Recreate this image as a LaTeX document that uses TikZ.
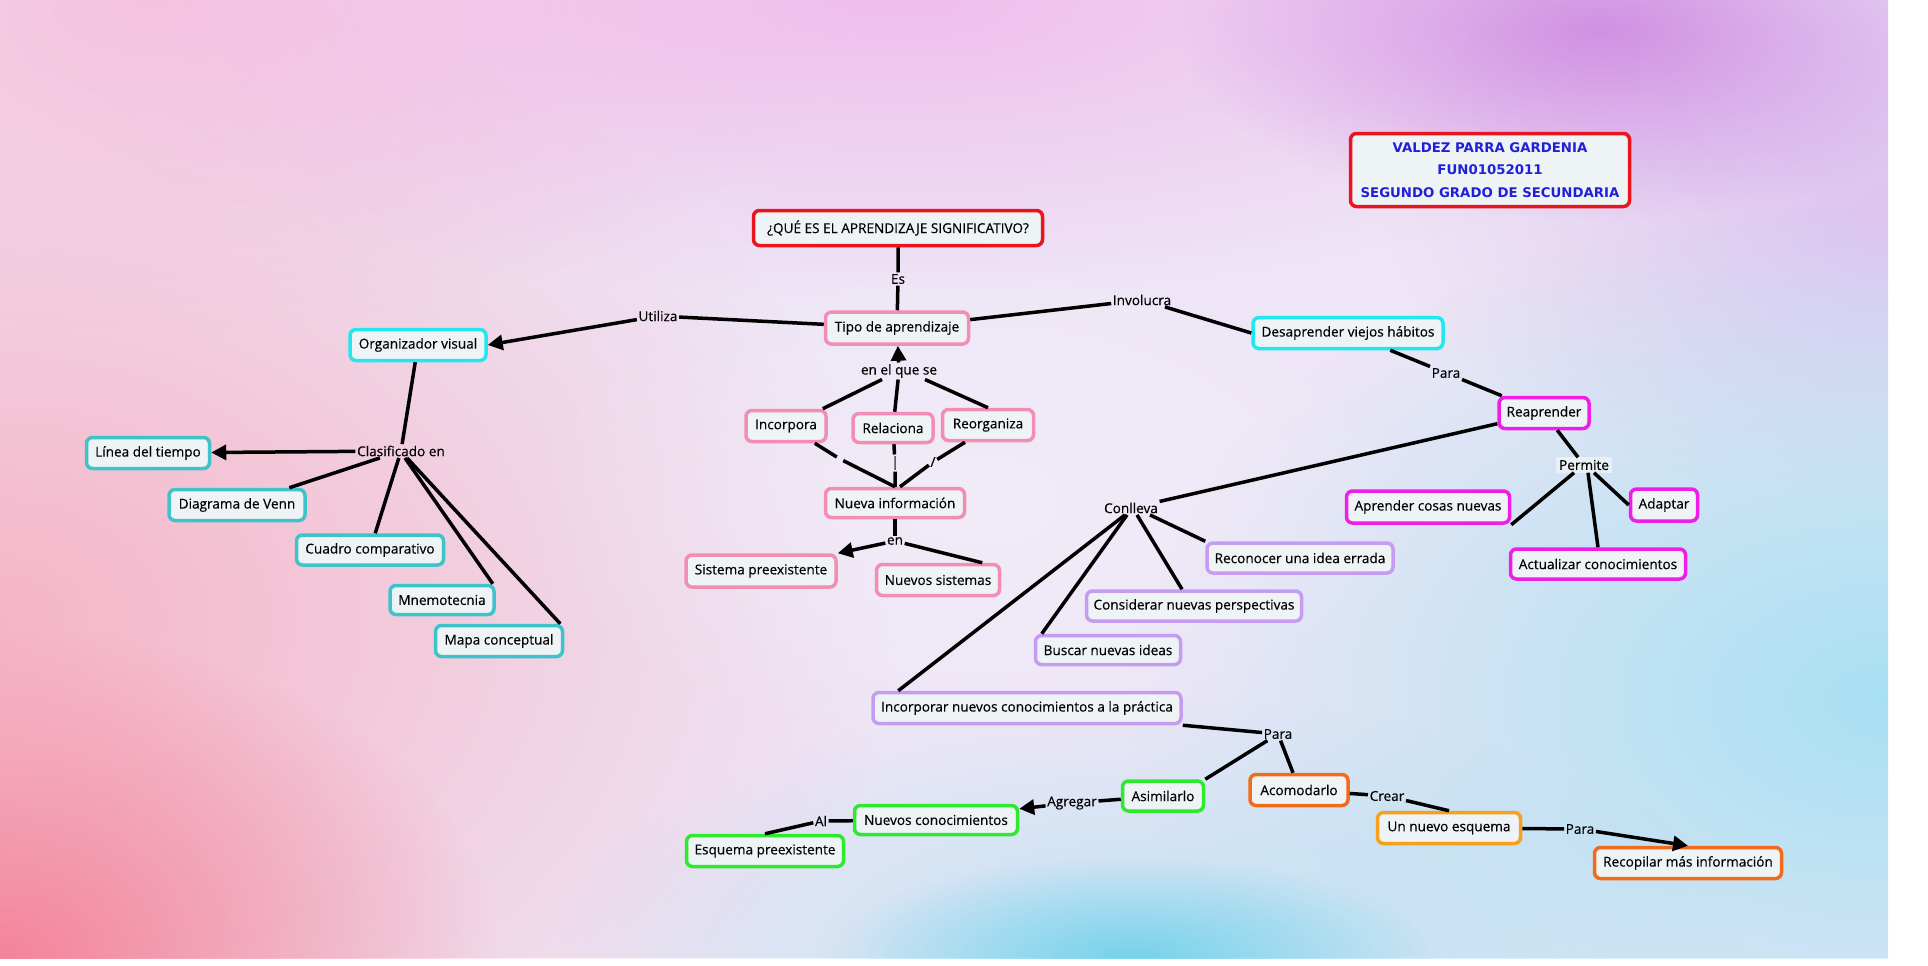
\documentclass[tikz,border=0pt]{standalone}
\usepackage{fontspec}
\setmainfont{Open Sans}[FakeBold=0.35]
\newfontfamily\infofam{DejaVu Sans}
\usetikzlibrary{arrows.meta,fadings,shadings}
\newcommand\cmfont{\fontsize{13.6}{16}\selectfont}
\newcommand\infofnt{\fontsize{13.3}{22.5}\selectfont\infofam\bfseries}
\definecolor{nfill}{HTML}{EEF3F5}
\definecolor{redc}{HTML}{E8141E}
\definecolor{bluet}{HTML}{2020D8}
\definecolor{pinkc}{HTML}{F28DB5}
\definecolor{cyanb}{HTML}{22E6F0}
\definecolor{tealc}{HTML}{3EC3CB}
\definecolor{magc}{HTML}{EE1EE6}
\definecolor{lavc}{HTML}{C49CF2}
\definecolor{greenc}{HTML}{2EEA2E}
\definecolor{orangec}{HTML}{F06C1C}
\definecolor{orangel}{HTML}{F5A01E}
\definecolor{bgBase}{RGB}{238,230,246}
\definecolor{bgPL}{RGB}{247,176,194}
\definecolor{bgPR}{RGB}{244,118,142}
\definecolor{bgTL}{RGB}{247,192,218}
\definecolor{bgTM}{RGB}{240,180,236}
\definecolor{bgP}{RGB}{204,132,224}
\definecolor{bgLil}{RGB}{218,186,238}
\definecolor{bgCR}{RGB}{160,224,242}
\definecolor{bgCy}{RGB}{70,200,230}
\definecolor{bgW}{RGB}{244,240,250}
\tikzfading[name=fuzzy, inner color=transparent!0, outer color=transparent!100]
\tikzset{
  box/.style={draw=#1, fill=nfill, rounded corners=6pt, line width=3.5pt,
    inner xsep=4pt, inner ysep=2pt, font=\cmfont, text=black},
  lbl/.style={font=\cmfont, inner sep=1.5pt, text=black},
  conn/.style={line width=3.5pt, draw=black},
  arr/.style={conn, -{Triangle[length=15pt,width=15pt]}},
  blob/.style={fill=#1, path fading=fuzzy}
}
\begin{document}
\begin{tikzpicture}[x=1pt,y=-1pt]
\useasboundingbox (0,0) rectangle (1928,966);
\fill[white] (0,0) rectangle (1928,966);
% background
\begin{scope}
\clip (0,0) rectangle (1888,958);
\fill[bgBase] (0,0) rectangle (1888,958);
\fill[blob=bgPL, opacity=.9] (0,620) ellipse (900 and 660);
\fill[blob=bgTL, opacity=.85] (150,0) ellipse (700 and 330);
\fill[blob=bgTM, opacity=.8] (900,0) ellipse (900 and 300);
\fill[blob=bgLil, opacity=.8] (1888,200) ellipse (500 and 300);
\fill[blob=bgCR, opacity=.9] (1888,700) ellipse (760 and 500);
\fill[blob=bgCR, opacity=.6] (1150,958) ellipse (600 and 260);
\fill[blob=bgPR, opacity=.85] (0,958) ellipse (500 and 330);
\fill[blob=bgP, opacity=.85] (1600,30) ellipse (420 and 190);
\fill[blob=bgCy, opacity=.6] (1130,958) ellipse (300 and 100);
\fill[blob=bgW, opacity=.6] (980,500) ellipse (460 and 260);
\end{scope}

% main nodes
\node[box=redc, minimum width=289pt, minimum height=35pt] (title) at (898,228) {¿QUÉ ES EL APRENDIZAJE SIGNIFICATIVO?};
\node[box=redc, minimum width=279pt, minimum height=73pt, align=center, font=\infofnt, text=bluet] (info) at (1490,170) {VALDEZ PARRA GARDENIA\\FUN01052011\\SEGUNDO GRADO DE SECUNDARIA};
\node[box=pinkc, minimum width=143pt, minimum height=32pt] (tipo) at (897,328) {Tipo de aprendizaje};
\node[box=cyanb, minimum width=136pt, minimum height=31pt] (org) at (418,345) {Organizador visual};
\node[box=cyanb, minimum width=190pt, minimum height=31pt] (desap) at (1348,333) {Desaprender viejos hábitos};
\node[box=magc, minimum width=90pt, minimum height=31pt] (reap) at (1544,413) {Reaprender};
\node[box=magc, minimum width=163pt, minimum height=32pt] (aprender) at (1428,507) {Aprender cosas nuevas};
\node[box=magc, minimum width=67pt, minimum height=32pt] (adaptar) at (1664,505) {Adaptar};
\node[box=magc, minimum width=175pt, minimum height=30pt] (actual) at (1598,564) {Actualizar conocimientos};
\node[box=lavc, minimum width=186pt, minimum height=30pt] (reconocer) at (1300,558) {Reconocer una idea errada};
\node[box=lavc, minimum width=215pt, minimum height=30pt] (considerar) at (1194,606) {Considerar nuevas perspectivas};
\node[box=lavc, minimum width=145pt, minimum height=29pt] (buscar) at (1108,650) {Buscar nuevas ideas};
\node[box=lavc, minimum width=308pt, minimum height=31pt] (incorp) at (1027,708) {Incorporar nuevos conocimientos a la práctica};
\node[box=greenc, minimum width=81pt, minimum height=30pt] (asim) at (1163,796) {Asimilarlo};
\node[box=orangec, minimum width=98pt, minimum height=31pt] (acom) at (1299,790) {Acomodarlo};
\node[box=orangel, minimum width=143pt, minimum height=31pt] (unuevo) at (1449,828) {Un nuevo esquema};
\node[box=orangec, minimum width=187pt, minimum height=31pt] (recop) at (1688,863) {Recopilar más información};
\node[box=greenc, minimum width=163pt, minimum height=29pt] (nc) at (936,820) {Nuevos conocimientos};
\node[box=greenc, minimum width=157pt, minimum height=31pt] (esq) at (765,851) {Esquema preexistente};
\node[box=pinkc, minimum width=80pt, minimum height=31pt] (incorpora) at (786,426) {Incorpora};
\node[box=pinkc, minimum width=80pt, minimum height=29pt] (relac) at (893,428) {Relaciona};
\node[box=pinkc, minimum width=91pt, minimum height=31pt] (reorg) at (988,425) {Reorganiza};
\node[box=pinkc, minimum width=139pt, minimum height=29pt] (nueva) at (895,503) {Nueva información};
\node[box=pinkc, minimum width=150pt, minimum height=32pt] (sistema) at (761,571) {Sistema preexistente};
\node[box=pinkc, minimum width=123pt, minimum height=31pt] (nsis) at (938,580) {Nuevos sistemas};
\node[box=tealc, minimum width=123pt, minimum height=31pt] (linea) at (148,453) {Línea del tiempo};
\node[box=tealc, minimum width=136pt, minimum height=31pt] (venn) at (237,505) {Diagrama de Venn};
\node[box=tealc, minimum width=147pt, minimum height=30pt] (cuadro) at (370,550) {Cuadro comparativo};
\node[box=tealc, minimum width=104pt, minimum height=29pt] (mnemo) at (442,600) {Mnemotecnia};
\node[box=tealc, minimum width=127pt, minimum height=31pt] (mapa) at (499,641) {Mapa conceptual};

% linking labels
\node[lbl] (es) at (898,279) {Es};
\node[lbl] (utiliza) at (658,316) {Utiliza};
\node[lbl] (involucra) at (1142,300) {Involucra};
\node[lbl] (enelquese) at (899,371) {en el que se};
\node[lbl] (clasif) at (401,451) {Clasificado en};
\node[lbl] (para1) at (1446,373) {Para};
\node[lbl, fill=nfill, fill opacity=.85, text opacity=1, inner xsep=3pt, inner ysep=2.5pt] (permite) at (1584,465) {Permite};
\node[lbl] (conlleva) at (1131,508) {Conlleva};
\node[lbl] (en) at (895,541) {en};
\node[lbl] (para2) at (1278,734) {Para};
\node[lbl] (crear) at (1387,796) {Crear};
\node[lbl] (para3) at (1580,829) {Para};
\node[lbl] (agregar) at (1072,803) {Agregar};
\node[lbl] (al) at (821,821) {Al};
\node[lbl, minimum size=6pt] (gI) at (840,459) {};
\node[lbl] (gR) at (895,463) {|};
\node[lbl] (gO) at (933,462) {/};

% connectors
\draw[conn] (title) -- (es) -- (tipo);
\draw[conn] (tipo) -- (utiliza);
\draw[arr] (utiliza) -- (org.east);
\draw[conn] (tipo) -- (involucra);
\draw[conn] (involucra) -- (desap.west);
\draw[conn] (desap) -- (para1) -- (reap);
\draw[conn] (reap) -- (conlleva);
\draw[conn] (reap) -- (permite);
\draw[conn] ([xshift=-10pt]permite.south) -- (aprender.south east);
\draw[conn] ([xshift=4pt]permite.south) -- (actual.north);
\draw[conn] ([xshift=10pt]permite.south) -- (adaptar.west);
\draw[conn] ([xshift=19pt]conlleva.south) -- (reconocer.north west);
\draw[conn] ([xshift=6pt]conlleva.south) -- ([xshift=-12pt]considerar.north);
\draw[conn] ([xshift=-4pt]conlleva.south) -- ([xshift=8pt]buscar.north west);
\draw[conn] ([xshift=-6pt]conlleva.south) -- ([xshift=27pt]incorp.north west);
\draw[conn] (incorp.south east) -- (para2);
\draw[conn] (para2) -- (asim.north east);
\draw[conn] (para2) -- ([xshift=-6pt]acom.north);
\draw[conn] (acom) -- (crear);
\draw[conn] (crear) -- (unuevo.north);
\draw[conn] (unuevo) -- (para3);
\draw[arr] (para3) -- (recop.north);
\draw[conn] (asim) -- (agregar);
\draw[arr] (agregar) -- ([yshift=-5pt]nc.north east);
\draw[conn] (nc) -- (al);
\draw[conn] (al) -- (esq.north);
\draw[arr] (enelquese) -- (tipo);
\draw[conn] ([xshift=-5pt]incorpora.north east) -- ([xshift=-17pt]enelquese.south);
\draw[conn] (relac) -- (enelquese);
\draw[conn] (reorg.north) -- ([xshift=26pt]enelquese.south);
\draw[conn] ([xshift=-13pt]incorpora.south east) -- (gI) -- (nueva.north);
\draw[conn] (relac) -- (gR) -- (nueva);
\draw[conn] ([xshift=-23pt]reorg.south) -- (gO) -- ([xshift=5pt]nueva.north);
\draw[conn] (nueva) -- (en);
\draw[arr] (en) -- (sistema.north east);
\draw[conn] (en) -- ([xshift=-19pt]nsis.north east);
\draw[conn] (org) -- (clasif);
\draw[arr] (clasif) -- (linea);
\draw[conn] (clasif) -- (venn);
\draw[conn] (clasif) -- (cuadro);
\draw[conn] ([xshift=4pt]clasif.south) -- ([xshift=-3pt]mnemo.north east);
\draw[conn] ([xshift=6pt]clasif.south) -- ([xshift=-4pt]mapa.north east);
\end{tikzpicture}
\end{document}
